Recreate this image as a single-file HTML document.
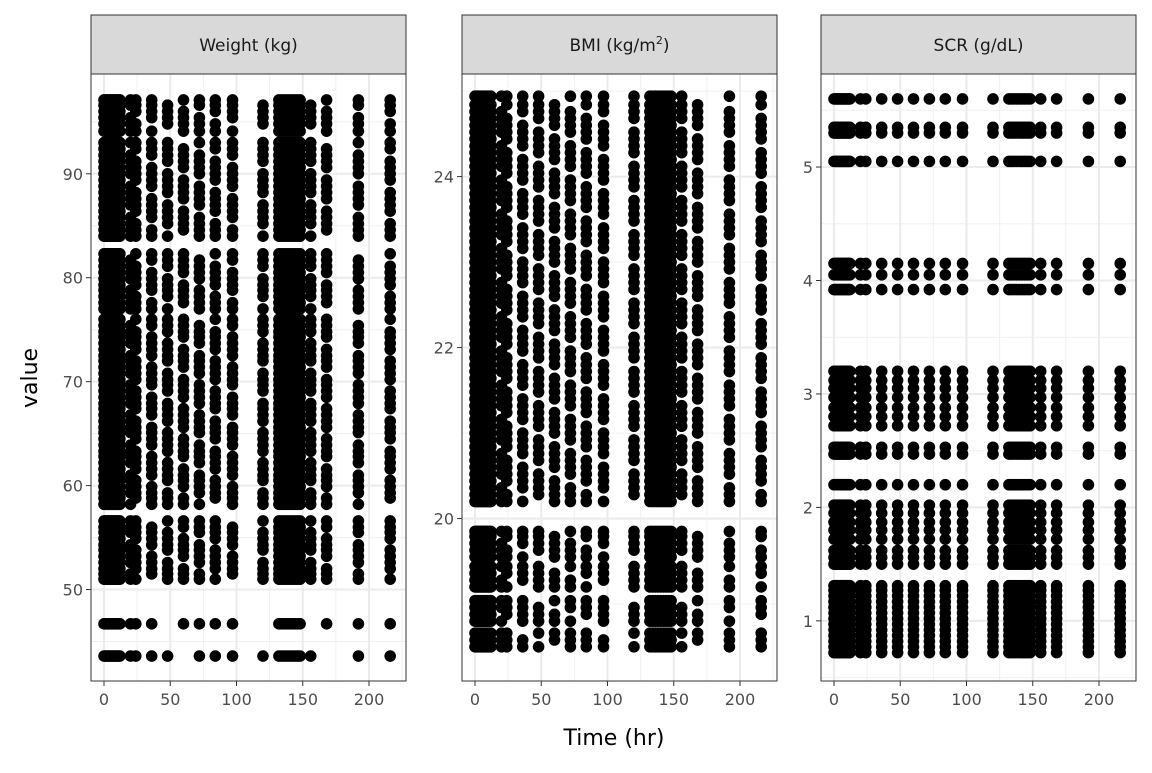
<!DOCTYPE html>
<html><head><meta charset="utf-8"><style>
body{margin:0;background:#fff;font-family:"Liberation Sans","DejaVu Sans",sans-serif}
svg text{font-family:"DejaVu Sans","Liberation Sans",sans-serif}
</style></head><body>
<svg id="c" width="1152" height="768" xmlns="http://www.w3.org/2000/svg"></svg>
<script>
const times=[0,1,2,3,4,5,6,7,8,9,10,11,12,20,24,36,48,60,72,84,97,120,132,134,136,138,140,142,144,146,148,156,168,192,216];
const denseTimes=[0,1,2,3,4,5,6,7,8,9,10,11,12,132,134,136,138,140,142,144,146,148];
const weightVals=[43.6,46.7,51.0,51.5,52.0,52.6,53.2,53.8,54.3,54.9,55.5,56.0,56.6,58.2,58.8,59.3,59.9,60.5,61.0,61.6,62.2,62.8,63.3,63.9,64.5,65.1,65.6,66.2,66.8,67.4,67.9,68.5,69.1,69.7,70.2,70.8,71.4,72.0,72.5,73.1,73.7,74.3,74.8,75.4,76.0,77.0,77.6,78.2,78.8,79.3,79.9,80.5,81.1,81.7,82.3,84.0,84.6,85.2,85.8,86.4,87.0,87.6,88.2,88.8,89.4,90.0,90.6,91.2,91.8,92.4,93.0,94.1,94.8,95.4,96.0,96.6,97.1];
const bmiVals=[18.5,18.58,18.66,18.8,18.88,18.96,19.04,19.2,19.28,19.36,19.44,19.55,19.63,19.71,19.79,19.85,20.2,20.28,20.36,20.44,20.52,20.6,20.68,20.76,20.84,20.92,21.0,21.08,21.16,21.24,21.32,21.4,21.48,21.56,21.64,21.72,21.8,21.88,21.96,22.04,22.12,22.2,22.28,22.36,22.44,22.52,22.6,22.68,22.76,22.84,22.92,23.0,23.08,23.16,23.24,23.32,23.4,23.48,23.56,23.64,23.72,23.8,23.88,23.96,24.04,24.12,24.2,24.28,24.36,24.44,24.52,24.6,24.68,24.76,24.84,24.94];
const scrVals=[0.72,0.77,0.82,0.87,0.92,0.97,1.02,1.07,1.12,1.17,1.22,1.27,1.31,1.5,1.56,1.62,1.72,1.8,1.87,1.95,2.02,2.2,2.47,2.53,2.72,2.8,2.88,2.97,3.05,3.12,3.2,3.92,4.05,4.15,5.05,5.3,5.35,5.6];
const xTicks=[0,50,100,150,200];
const panels=[
 {name:'Weight (kg)',x0:91,vals:weightVals,ymin:41.2,ymax:99.6,ticks:[50,60,70,80,90],skip:true},
 {name:'BMI',x0:462,vals:bmiVals,ymin:18.1,ymax:25.2,ticks:[20,22,24],skip:true},
 {name:'SCR (g/dL)',x0:821,vals:scrVals,ymin:0.47,ymax:5.82,ticks:[1,2,3,4,5],skip:false}
];
const svg=document.getElementById('c');const NS='http://www.w3.org/2000/svg';
function mk(t,a,p){const e=document.createElementNS(NS,t);for(const k in a)e.setAttribute(k,a[k]);(p||svg).appendChild(e);return e;}
const PW=315,pTop=74,pBot=681;
panels.forEach((p,pi)=>{
 const g=mk('g',{});
 
 
 const xs=t=>p.x0+13+t*1.325;
 const ys=v=>pBot-(v-p.ymin)/(p.ymax-p.ymin)*(pBot-pTop);
 mk('rect',{x:p.x0,y:pTop,width:PW,height:pBot-pTop,fill:'#fff'},g);
 [25,75,125,175,225].forEach(t=>mk('line',{x1:xs(t),x2:xs(t),y1:pTop,y2:pBot,stroke:'#f0f0f0','stroke-width':1},g));
 const step=p.ticks[1]-p.ticks[0];
 for(let v=p.ticks[0]-step*1.5;v<p.ymax;v+=step){const y=ys(v);if(y>pTop&&y<pBot)mk('line',{x1:p.x0,x2:p.x0+PW,y1:y,y2:y,stroke:'#f0f0f0','stroke-width':1},g);}
 xTicks.forEach(t=>{mk('line',{x1:xs(t),x2:xs(t),y1:pTop,y2:pBot,stroke:'#ebebeb','stroke-width':2},g);
  mk('line',{x1:xs(t),x2:xs(t),y1:pBot,y2:pBot+5,stroke:'#333','stroke-width':1},g);
  const tx=mk('text',{x:xs(t),y:pBot+24,'text-anchor':'middle','font-size':16,fill:'#4d4d4d'},g);tx.textContent=t;
  
  });
 p.ticks.forEach(v=>{const y=ys(v);mk('line',{x1:p.x0,x2:p.x0+PW,y1:y,y2:y,stroke:'#ebebeb','stroke-width':2},g);
  mk('line',{x1:p.x0-5,x2:p.x0,y1:y,y2:y,stroke:'#333'},g);
  const tx=mk('text',{x:p.x0-8,y:y+6,'text-anchor':'end','font-size':16,fill:'#4d4d4d'},g);tx.textContent=v;
  
  });
 times.forEach((t,ti)=>{
  const dense=denseTimes.includes(t);
  p.vals.forEach((v,i)=>{
   if(p.skip && !dense && (i+ti)%5===2)return;
   const c=mk('circle',{cx:xs(t),cy:ys(v),r:5.8,fill:'#000'},g);
   
   
  });
 });
 mk('rect',{x:p.x0,y:pTop,width:PW,height:pBot-pTop,fill:'none',stroke:'#333','stroke-width':1},g);
 const s=mk('rect',{x:p.x0,y:15,width:PW,height:59,fill:'#d9d9d9',stroke:'#333','stroke-width':1},g);
 
 
 const st=mk('text',{x:p.x0+PW/2,y:51,'text-anchor':'middle','font-size':17,fill:'#1a1a1a'},g);
 
 
 if(p.name==='BMI'){st.innerHTML='BMI (kg/m<tspan dy="-7" font-size="11">2</tspan><tspan dy="7">)</tspan>';}else st.textContent=p.name;
});
const yl=mk('text',{x:0,y:0,transform:'translate(37,378) rotate(-90)','text-anchor':'middle','font-size':22,fill:'#000'});
yl.textContent='value';


const xl=mk('text',{x:614,y:745,'text-anchor':'middle','font-size':22,fill:'#000'});
xl.textContent='Time (hr)';


</script>
</body></html>
